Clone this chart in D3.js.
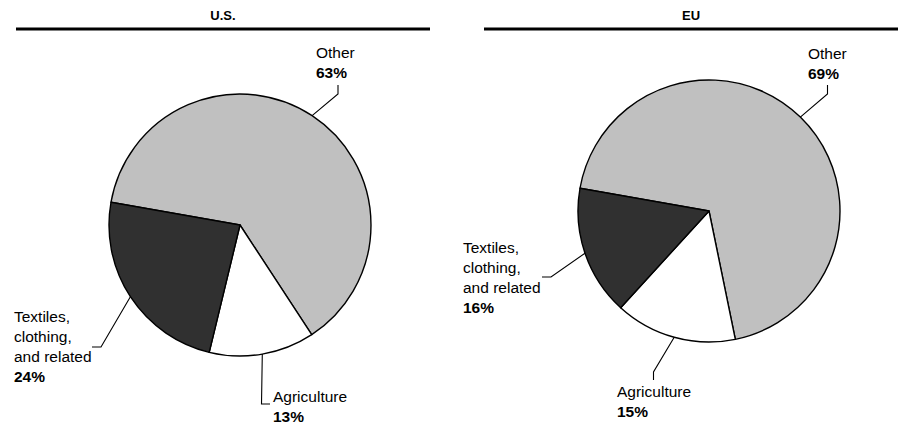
<!DOCTYPE html>
<html>
<head>
<meta charset="utf-8">
<script src="https://cdn.jsdelivr.net/npm/d3@7/dist/d3.min.js"></script>
<style>
  html, body { margin: 0; padding: 0; background: #fff; }
  svg { display: block; font-family: "Liberation Sans", Arial, Helvetica, sans-serif; }
</style>
</head>
<body>
<svg id="chart" width="901" height="425"></svg>
<script>
// Shares of each category, in percent, for the two economies
const regions = ["U.S.", "EU"];
const categories = ["Other", "Agriculture", "Textiles, clothing, and related"];
const categoryLines = [["Other"], ["Agriculture"], ["Textiles,", "clothing,", "and related"]];
const usShares = [63, 13, 24];
const euShares = [69, 15, 16];

const fills = ["#c0c0c0", "#ffffff", "#303030"];

// Panel geometry: pie centre, title rule span, and where each label sits
const panels = [
  {
    shares: usShares, cx: 240, cy: 225, ruleX0: 16, ruleX1: 430,
    labels: [
      { knee: [338, 94],  end: [338, 85],  tx: 316, ty: 58 },
      { knee: [261.5, 404], end: [270, 404], tx: 273, ty: 402 },
      { knee: [101, 347], end: [92, 347],  tx: 14,  ty: 322 }
    ]
  },
  {
    shares: euShares, cx: 709, cy: 211, ruleX0: 484, ruleX1: 898,
    labels: [
      { knee: [827.5, 94], end: [827.5, 85], tx: 808, ty: 58.5 },
      { knee: [653.5, 372], end: [653.5, 380], tx: 617, ty: 397 },
      { knee: [551, 277], end: [542, 277], tx: 463, ty: 252.5 }
    ]
  }
];

const radius = 131;
const lineGap = 20;
const startAngle = -80 * Math.PI / 180;

const svg = d3.select("#chart");

const pie = d3.pie()
  .sort(null)
  .value(d => d)
  .startAngle(startAngle)
  .endAngle(startAngle + 2 * Math.PI);

const arc = d3.arc().innerRadius(0).outerRadius(radius);

panels.forEach((p, i) => {
  const g = svg.append("g");

  // Title and heavy rule underneath
  g.append("text")
    .attr("x", (p.ruleX0 + p.ruleX1) / 2)
    .attr("y", 20)
    .attr("text-anchor", "middle")
    .attr("font-size", 13)
    .attr("font-weight", "bold")
    .attr("fill", "#000")
    .text(regions[i]);

  g.append("line")
    .attr("x1", p.ruleX0).attr("x2", p.ruleX1)
    .attr("y1", 29).attr("y2", 29)
    .attr("stroke", "#000")
    .attr("stroke-width", 2.8);

  const arcs = pie(p.shares);

  const pieG = g.append("g").attr("transform", `translate(${p.cx},${p.cy})`);
  pieG.selectAll("path.slice")
    .data(arcs)
    .join("path")
    .attr("class", "slice")
    .attr("d", arc)
    .attr("fill", (d, j) => fills[j])
    .attr("stroke", "#000")
    .attr("stroke-width", 1.4)
    .attr("stroke-linejoin", "round");

  // Leader lines start at the middle of each slice's outer arc
  arcs.forEach((a, j) => {
    const lab = p.labels[j];
    const mid = (a.startAngle + a.endAngle) / 2;
    const sx = p.cx + radius * Math.sin(mid);
    const sy = p.cy - radius * Math.cos(mid);
    const pts = [[sx, sy], lab.knee, lab.end];
    g.append("path")
      .attr("d", d3.line()(pts))
      .attr("fill", "none")
      .attr("stroke", "#000")
      .attr("stroke-width", 1.1);

    const t = g.append("text")
      .attr("x", lab.tx)
      .attr("y", lab.ty)
      .attr("font-size", 15.5)
      .attr("fill", "#000");
    const lines = categoryLines[j];
    lines.forEach((ln, k) => {
      t.append("tspan")
        .attr("x", lab.tx)
        .attr("y", lab.ty + k * lineGap)
        .text(ln);
    });
    t.append("tspan")
      .attr("x", lab.tx)
      .attr("y", lab.ty + lines.length * lineGap)
      .attr("font-weight", "bold")
      .text(p.shares[j] + "%");
  });
});
</script>
</body>
</html>
